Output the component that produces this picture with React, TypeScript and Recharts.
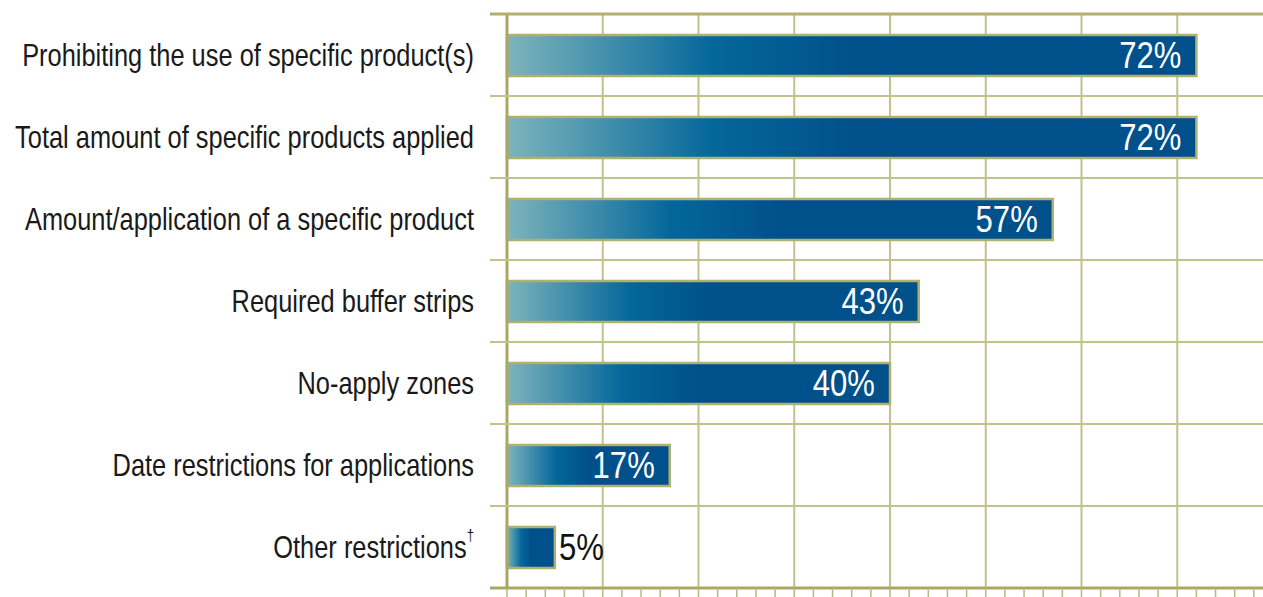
import React from "react";
import { BarChart, Bar, XAxis, YAxis, CartesianGrid, LabelList } from "recharts";

const categories = [
  "Prohibiting the use of specific product(s)",
  "Total amount of specific products applied",
  "Amount/application of a specific product",
  "Required buffer strips",
  "No-apply zones",
  "Date restrictions for applications",
  "Other restrictions†",
];
const shares = [72, 72, 57, 43, 40, 17, 5];
const minorTicks = [0, 2, 4, 6, 8, 10, 12, 14, 16, 18, 20, 22, 24, 26, 28, 30, 32, 34, 36, 38, 40, 42, 44, 46, 48, 50, 52, 54, 56, 58, 60, 62, 64, 66, 68, 70, 72, 74, 76, 78, 80];
const majorTicks = [10, 20, 30, 40, 50, 60, 70, 80];

const data = categories.map((name, i) => ({ name, value: shares[i] }));

// no narrow face installed, so Liberation Sans squeezed horizontally
const FONT = '"Liberation Sans", Arial, sans-serif';
const OLIVE = "#b0b070";
const GRID = "#c2c28c";

const CategoryTick = (props: any) => {
  const { x, y, payload, index, visibleTicksCount } = props;
  const half = payload && payload.offset != null ? payload.offset : 41;
  const label: string = payload.value;
  const dagger = label.endsWith("†");
  return (
    <g>
      <line x1={x - 17} x2={x + 900} y1={y - half} y2={y - half} stroke={index === 0 ? OLIVE : GRID} strokeWidth={index === 0 ? 3 : 2} />
      {index === visibleTicksCount - 1 && (
        <line x1={x - 17} x2={x} y1={y + half} y2={y + half} stroke="#a8a868" strokeWidth={3} />
      )}
      <text
        transform={`translate(${x - 33},${y}) scale(0.82,1)`}
        textAnchor="end"
        dominantBaseline="central"
        fill="#1a1a1a"
        fontSize={31}
        fontFamily={FONT}
      >
        {dagger ? label.slice(0, -1) : label}
        {dagger && (
          <tspan fontSize={16} dy={-11}>†</tspan>
        )}
      </text>
    </g>
  );
};

const ValueLabel = (props: any) => {
  const { x, y, width, height, value } = props;
  const inside = value >= 10;
  const tx = inside ? x + width - 15 : x + width + 4;
  return (
    <text
      transform={`translate(${tx},${y + height / 2}) scale(0.84,1)`}
      textAnchor={inside ? "end" : "start"}
      dominantBaseline="central"
      fill={inside ? "#ffffff" : "#111111"}
      fontSize={37}
      fontFamily={FONT}
    >
      {value}%
    </text>
  );
};

export default function App() {
  return (
    <div style={{ position: "fixed", left: 0, top: 0, width: 1263, height: 597, overflow: "hidden", background: "#fff" }}>
      <BarChart
        width={1280}
        height={620}
        data={data}
        layout="vertical"
        margin={{ top: 14, right: 7, bottom: 0, left: 0 }}
        barSize={41}
      >
        <defs>
          <linearGradient id="barGrad" x1="0" y1="0" x2="1" y2="0">
            <stop offset="0" stopColor="#7db4bc" />
            <stop offset="0.3" stopColor="#04679b" />
            <stop offset="0.5" stopColor="#00508b" />
            <stop offset="1" stopColor="#00508b" />
          </linearGradient>
        </defs>
        <CartesianGrid
          horizontal={false}
          stroke={GRID}
          strokeWidth={2}
          verticalCoordinatesGenerator={({ xAxis, offset }: any) =>
            majorTicks.map((v) =>
              xAxis && typeof xAxis.scale === "function"
                ? xAxis.scale(v)
                : offset.left + (v / 80) * offset.width
            )
          }
        />
        <XAxis
          type="number"
          domain={[0, 80]}
          ticks={minorTicks}
          interval={0}
          height={32}
          tick={() => <g />}
          tickSize={10}
          tickLine={{ stroke: "#b8b880", strokeWidth: 1.5 }}
          axisLine={{ stroke: "#a8a868", strokeWidth: 3 }}
        />
        <YAxis
          type="category"
          dataKey="name"
          width={507}
          tickSize={0}
          tickMargin={0}
          tickLine={false}
          interval={0}
          axisLine={{ stroke: "#a8a868", strokeWidth: 3 }}
          tick={<CategoryTick />}
        />
        <Bar dataKey="value" fill="url(#barGrad)" stroke={OLIVE} strokeWidth={2.5} isAnimationActive={false}>
          <LabelList dataKey="value" content={<ValueLabel />} />
        </Bar>
      </BarChart>
    </div>
  );
}
